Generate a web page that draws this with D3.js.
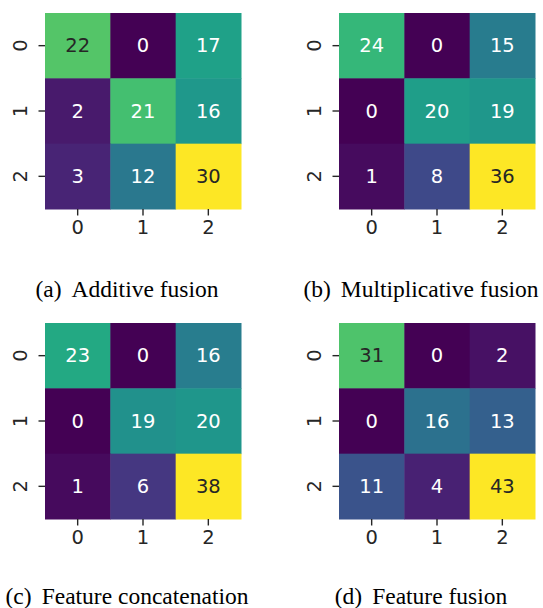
<!DOCTYPE html>
<html>
<head>
<meta charset="utf-8">
<script src="https://cdn.jsdelivr.net/npm/d3@7"></script>
<style>
  html, body { margin: 0; padding: 0; background: #fff; }
  svg { display: block; }
</style>
</head>
<body>
<svg id="chart" width="543" height="608"></svg>
<script>
// Class labels shared by every confusion matrix
const classes = ["0", "1", "2"];

// Confusion matrices (rows = true class, columns = predicted class)
const additiveFusion       = [[22, 0, 17], [2, 21, 16], [3, 12, 30]];
const multiplicativeFusion = [[24, 0, 15], [0, 20, 19], [1, 8, 36]];
const featureConcatenation = [[23, 0, 16], [0, 19, 20], [1, 6, 38]];
const featureFusion        = [[31, 0, 2], [0, 16, 13], [11, 4, 43]];

// Sub-figure labels and captions
const captionLabels = ["(a)", "(b)", "(c)", "(d)"];
const captionTexts = [
  "Additive fusion",
  "Multiplicative fusion",
  "Feature concatenation",
  "Feature fusion"
];

const matrices = [additiveFusion, multiplicativeFusion, featureConcatenation, featureFusion];

// Panel placement: heatmap origin and caption anchor
const panels = [
  { x: 45,  y: 13,  cx: 127, cy: 297 },
  { x: 339, y: 13,  cx: 421, cy: 297 },
  { x: 45,  y: 323, cx: 127, cy: 604 },
  { x: 339, y: 323, cx: 421, cy: 604 }
];
const size = 196;

const svg = d3.select("#chart");

// Relative luminance as used to pick annotation colour
function luminance(c) {
  const rgb = d3.rgb(c);
  const f = v => { v /= 255; return v <= 0.03928 ? v / 12.92 : Math.pow((v + 0.055) / 1.055, 2.4); };
  return 0.2126 * f(rgb.r) + 0.7152 * f(rgb.g) + 0.0722 * f(rgb.b);
}

matrices.forEach((m, i) => {
  const p = panels[i];
  const g = svg.append("g").attr("transform", `translate(${p.x},${p.y})`);

  const x = d3.scaleBand().domain(classes).range([0, size]);
  const y = d3.scaleBand().domain(classes).range([0, size]);
  const flat = m.flat();
  const color = d3.scaleSequential(d3.interpolateViridis).domain([d3.min(flat), d3.max(flat)]);

  const cells = [];
  m.forEach((row, r) => row.forEach((v, c) => cells.push({ r: classes[r], c: classes[c], v })));

  g.selectAll("rect.cell").data(cells).join("rect")
    .attr("class", "cell")
    .attr("x", d => x(d.c))
    .attr("y", d => y(d.r))
    .attr("width", x.bandwidth() + 0.5)
    .attr("height", y.bandwidth() + 0.5)
    .attr("fill", d => color(d.v));

  g.selectAll("text.annot").data(cells).join("text")
    .attr("class", "annot")
    .attr("x", d => x(d.c) + x.bandwidth() / 2)
    .attr("y", d => y(d.r) + y.bandwidth() / 2)
    .attr("text-anchor", "middle")
    .attr("dominant-baseline", "central")
    .attr("font-family", "DejaVu Sans")
    .attr("font-size", 19.5)
    .attr("fill", d => luminance(color(d.v)) > 0.408 ? "#262626" : "#ffffff")
    .text(d => d.v);

  // Bottom axis
  const xAxis = g.append("g")
    .attr("transform", `translate(0,${size})`)
    .call(d3.axisBottom(x).tickSize(6.5).tickPadding(3));
  // Left axis with vertical tick labels
  const yAxis = g.append("g")
    .call(d3.axisLeft(y).tickSize(6.5).tickPadding(4));

  [xAxis, yAxis].forEach(a => {
    a.select(".domain").remove();
    a.selectAll(".tick line").attr("stroke", "#262626").attr("stroke-width", 1.4);
    a.selectAll(".tick text")
      .attr("font-family", "DejaVu Sans")
      .attr("font-size", 19.5)
      .attr("fill", "#262626");
  });
  xAxis.selectAll(".tick text").attr("dy", "0.8em");
  yAxis.selectAll(".tick text")
    .attr("text-anchor", "middle")
    .attr("dy", null)
    .attr("dominant-baseline", "central")
    .attr("x", null)
    .attr("transform", "translate(-25,0) rotate(-90)");

  const cap = svg.append("text")
    .attr("x", p.cx)
    .attr("y", p.cy)
    .attr("text-anchor", "middle")
    .attr("font-family", "Liberation Serif")
    .attr("font-size", 23.5)
    .attr("fill", "#000");
  cap.append("tspan").text(captionLabels[i]);
  cap.append("tspan").attr("dx", 10).text(captionTexts[i]);
});
</script>
</body>
</html>
